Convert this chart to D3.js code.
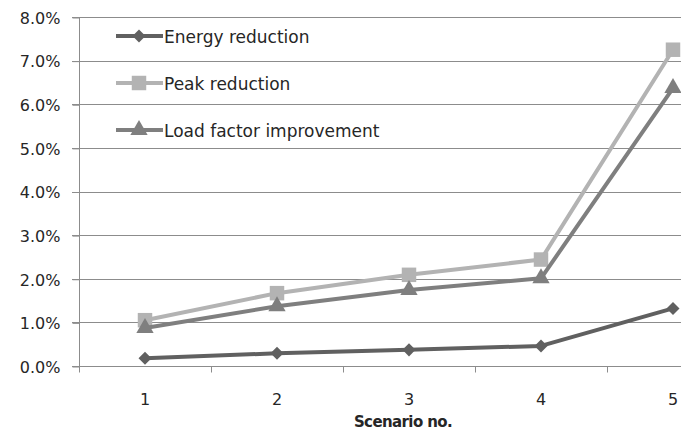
<!DOCTYPE html>
<html>
<head>
<meta charset="utf-8">
<script src="https://cdn.jsdelivr.net/npm/d3@7"></script>
<style>
  body { margin: 0; background: #fff; }
  text { font-family: "DejaVu Sans", sans-serif; fill: #262626; }
</style>
</head>
<body>
<svg id="chart" width="688" height="431"></svg>
<script>
// scenario numbers on the x axis
const scenarios = ["1", "2", "3", "4", "5"];
// percent values
const energyReduction = [0.18, 0.29, 0.37, 0.46, 1.32];
const peakReduction = [1.05, 1.67, 2.09, 2.44, 7.25];
const loadFactor = [0.87, 1.37, 1.74, 2.01, 6.37];
const yTicks = [0, 1, 2, 3, 4, 5, 6, 7, 8];

const series = [
  { name: "Energy reduction", values: energyReduction, color: "#606060", marker: "diamond" },
  { name: "Peak reduction", values: peakReduction, color: "#b3b3b3", marker: "square" },
  { name: "Load factor improvement", values: loadFactor, color: "#7f7f7f", marker: "triangle" }
];

let svg = d3.select("#chart");
let plotLeft = 79, plotTop = 17, plotBottom = 366, cropRight = 681;

// band scale: the original plot runs past the right edge of the picture
let xScale = d3.scaleBand().domain(scenarios).range([plotLeft, plotLeft + 5 * 132]);
let yScale = d3.scaleLinear().domain([0, 8]).range([plotBottom, plotTop]);

svg.append("defs").append("clipPath").attr("id", "crop")
  .append("rect").attr("x", 0).attr("y", 0).attr("width", cropRight).attr("height", 431);

let g = svg.append("g").attr("clip-path", "url(#crop)");

// horizontal gridlines
g.selectAll(".grid")
  .data(yTicks.slice(1))
  .enter()
  .append("line")
  .attr("x1", plotLeft - 7)
  .attr("x2", cropRight)
  .attr("y1", d => Math.round(yScale(d)) + 0.5)
  .attr("y2", d => Math.round(yScale(d)) + 0.5)
  .attr("stroke", "#8c8c8c")
  .attr("stroke-width", 1);

// y axis
let yAxis = d3.axisLeft(yScale)
  .tickValues(yTicks)
  .tickSize(7)
  .tickFormat(d => d.toFixed(1) + "%");
let yg = svg.append("g")
  .attr("transform", `translate(${plotLeft + 0.5},0.5)`)
  .call(yAxis);
yg.select(".domain").attr("stroke", "#8c8c8c").attr("d", `M0,${plotTop}V${plotBottom}`);
yg.selectAll(".tick line").attr("stroke", "#8c8c8c");
yg.selectAll(".tick text")
  .attr("x", -19)
  .attr("dy", "0.36em")
  .style("font-size", "16px")
  .style("font-family", "DejaVu Sans, sans-serif")
  .attr("fill", "#262626");

// x axis, ticks at band edges
let xg = g.append("g").attr("transform", `translate(0,${plotBottom + 0.5})`);
xg.append("line")
  .attr("x1", plotLeft - 7).attr("x2", cropRight)
  .attr("stroke", "#8c8c8c");
xg.selectAll(".xtick")
  .data(scenarios)
  .enter()
  .append("line")
  .attr("x1", d => Math.round(xScale(d)) + 0.5)
  .attr("x2", d => Math.round(xScale(d)) + 0.5)
  .attr("y1", 0).attr("y2", 6)
  .attr("stroke", "#8c8c8c");
xg.selectAll(".xlabel")
  .data(scenarios)
  .enter()
  .append("text")
  .attr("x", d => xScale(d) + xScale.bandwidth() / 2)
  .attr("y", 38)
  .attr("text-anchor", "middle")
  .style("font-size", "16px")
  .text(d => d);

svg.append("text")
  .attr("x", 403)
  .attr("y", 427)
  .attr("text-anchor", "middle")
  .style("font-size", "15px")
  .style("font-weight", "bold")
  .style("letter-spacing", "-0.6px")
  .text("Scenario no.");

// diamond drawn as a square turned 45 degrees, like the original markers
const symbols = { diamond: d3.symbolSquare, square: d3.symbolSquare, triangle: d3.symbolTriangle };
const sizes = { diamond: 85, square: 210, triangle: 130 };
const turns = { diamond: 45, square: 0, triangle: 0 };

let line = d3.line()
  .x((d, i) => xScale(scenarios[i]) + xScale.bandwidth() / 2)
  .y(d => yScale(d));

series.forEach(function (s) {
  g.append("path")
    .datum(s.values)
    .attr("fill", "none")
    .attr("stroke", s.color)
    .attr("stroke-width", 4)
    .attr("stroke-linejoin", "round")
    .attr("d", line);
  g.selectAll(null)
    .data(s.values)
    .enter()
    .append("path")
    .attr("transform", (d, i) =>
      `translate(${xScale(scenarios[i]) + xScale.bandwidth() / 2},${yScale(d)}) rotate(${turns[s.marker]})`)
    .attr("d", d3.symbol().type(symbols[s.marker]).size(sizes[s.marker]))
    .attr("fill", s.color);
});

// legend
let legend = svg.append("g").attr("transform", "translate(116,36)");
series.forEach(function (s, i) {
  let row = legend.append("g").attr("transform", `translate(0,${i * 47})`);
  row.append("line")
    .attr("x1", 0).attr("x2", 47)
    .attr("stroke", s.color).attr("stroke-width", 4);
  row.append("path")
    .attr("transform", `translate(23,0) rotate(${turns[s.marker]})`)
    .attr("d", d3.symbol().type(symbols[s.marker]).size(sizes[s.marker]))
    .attr("fill", s.color);
  row.append("text")
    .attr("x", 48)
    .attr("y", 7)
    .style("font-size", "17px")
    .text(s.name);
});
</script>
</body>
</html>
